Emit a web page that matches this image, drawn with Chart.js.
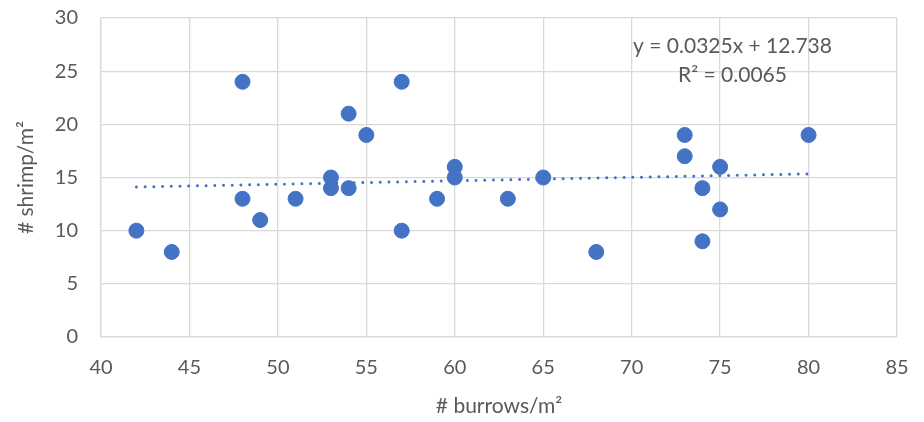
<!DOCTYPE html>
<html>
<head>
<meta charset="utf-8">
<script src="https://cdn.jsdelivr.net/npm/chart.js@4/dist/chart.umd.min.js"></script>
<style>
  html, body { margin: 0; padding: 0; background: #fff; }
  #wrap { width: 924px; height: 422px; }
</style>
</head>
<body>
<div id="wrap"><canvas id="chart" width="924" height="422"></canvas></div>
<script>
// burrows per m2 (x) and shrimp per m2 (y)
const burrows = [42, 44, 48, 48, 49, 51, 53, 53, 54, 54, 55, 57, 57, 59, 60, 60, 63, 65, 68, 73, 73, 74, 74, 75, 75, 80];
const shrimp  = [10,  8, 24, 13, 11, 13, 15, 14, 21, 14, 19, 24, 10, 13, 16, 15, 13, 15,  8, 19, 17, 14,  9, 16, 12, 19];

// linear trendline as printed on the chart
const slope = 0.0325;
const intercept = 12.738;
const rSquared = 0.0065;
const trendRange = [42, 80];

const xTicks = [40, 45, 50, 55, 60, 65, 70, 75, 80, 85];
const yTicks = [0, 5, 10, 15, 20, 25, 30];

const blue = "#4472C4";
const textGray = "#595959";
const gridGray = "#d9d9d9";
const fontFamily = "Lato, 'Open Sans', sans-serif";

const points = burrows.map((x, i) => ({ x: x, y: shrimp[i] }));
const trendPoints = trendRange.map(x => ({ x: x, y: slope * x + intercept }));

// draws the equation / R² label like excel does
const trendLabel = {
  id: "trendLabel",
  afterDraw(chart) {
    const { ctx, scales } = chart;
    const cx = scales.x.getPixelForValue(75.7);
    ctx.save();
    ctx.fillStyle = textGray;
    ctx.font = "21px " + fontFamily;
    ctx.textAlign = "center";
    ctx.textBaseline = "middle";
    ctx.fillText(`y = ${slope}x + ${intercept}`, cx, scales.y.getPixelForValue(27.3));
    ctx.fillText(`R² = ${rSquared}`, cx, scales.y.getPixelForValue(24.6));
    ctx.restore();
  }
};

const ctx = document.getElementById("chart").getContext("2d");
new Chart(ctx, {
  type: "scatter",
  data: {
    datasets: [
      {
        label: "shrimp",
        data: points,
        backgroundColor: blue,
        borderColor: blue,
        pointRadius: 7.5,
        pointHoverRadius: 7.5,
        order: 1
      },
      {
        type: "line",
        label: "trend",
        data: trendPoints,
        borderColor: blue,
        borderWidth: 3,
        borderCapStyle: "round",
        borderDash: [0.01, 8.7],
        pointRadius: 0,
        fill: false,
        order: 2
      }
    ]
  },
  options: {
    responsive: false,
    animation: false,
    layout: { padding: { top: 18, right: 27, left: 0, bottom: 0 } },
    plugins: {
      legend: { display: false },
      tooltip: { enabled: false }
    },
    scales: {
      x: {
        type: "linear",
        min: 40,
        max: 85,
        afterBuildTicks: axis => { axis.ticks = xTicks.map(v => ({ value: v })); },
        afterFit: axis => {
          axis.height = 85;
          axis.paddingLeft = 0;
          axis.paddingRight = 0;
        },
        grid: { color: gridGray, lineWidth: 1.3, drawTicks: false },
        border: { color: gridGray, width: 1.3 },
        ticks: { color: textGray, font: { family: fontFamily, size: 20 }, padding: 19 },
        title: {
          display: true,
          text: "# burrows/m²",
          color: textGray,
          font: { family: fontFamily, size: 21 },
          padding: { top: 4, bottom: 3 }
        }
      },
      y: {
        min: 0,
        max: 30,
        afterBuildTicks: axis => { axis.ticks = yTicks.map(v => ({ value: v })); },
        afterFit: axis => {
          axis.width = 101;
          // tick padding is pushed into the top/bottom gap, drop it
          axis.paddingTop = 0;
          axis.paddingBottom = 0;
        },
        grid: { color: gridGray, lineWidth: 1.3, drawTicks: false },
        border: { color: gridGray, width: 1.3 },
        ticks: { color: textGray, font: { family: fontFamily, size: 20 }, padding: 23 },
        title: {
          display: true,
          text: "# shrimp/m²",
          color: textGray,
          font: { family: fontFamily, size: 21 },
          padding: { top: 14 }
        }
      }
    }
  },
  plugins: [trendLabel]
});
</script>
</body>
</html>
